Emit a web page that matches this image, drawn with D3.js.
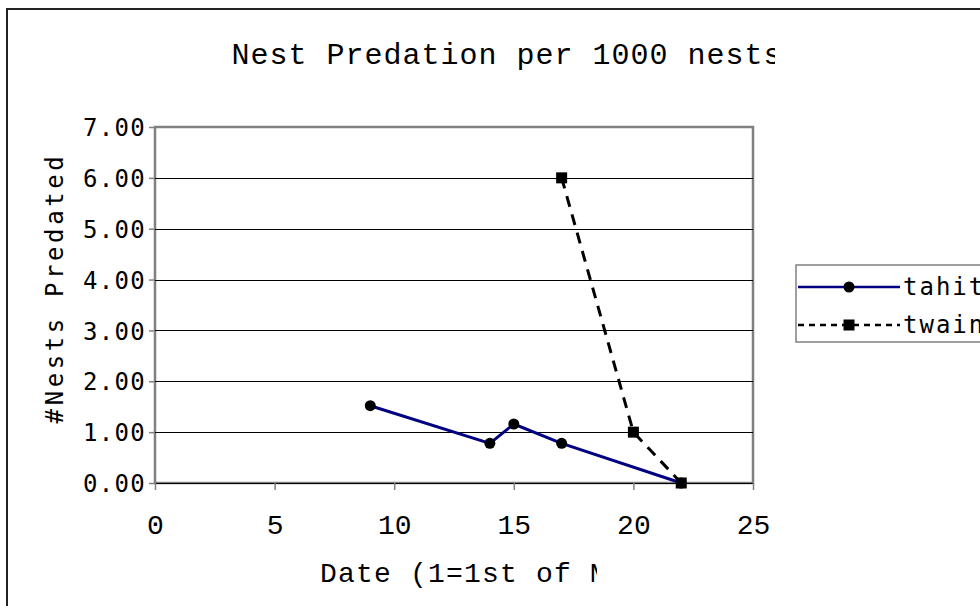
<!DOCTYPE html>
<html>
<head>
<meta charset="utf-8">
<script src="https://cdn.jsdelivr.net/npm/d3@7"></script>
<style>
  body { margin: 0; background: #fff; }
  svg { display: block; }
</style>
</head>
<body>
<div id="chart"></div>
<script>
"use strict";

// data
var tahitDates = [9, 14, 15, 17, 22];
var tahitValues = [1.52, 0.78, 1.16, 0.78, 0];
var twainDates = [17, 20, 22];
var twainValues = [6.0, 1.0, 0];
var seriesNames = ["tahiti", "twain"];
var xTicks = [0, 5, 10, 15, 20, 25];
var yTicks = [0, 1, 2, 3, 4, 5, 6, 7];

var W = 980, H = 606;
var plot = {left: 155, right: 753, top: 127, bottom: 483};

var svg = d3.select("#chart")
  .append("svg")
    .attr("width", W)
    .attr("height", H);

var defs = svg.append("defs");
defs.append("clipPath").attr("id", "clipTitle")
  .append("rect").attr("x", 0).attr("y", 0).attr("width", 775).attr("height", 110);
defs.append("clipPath").attr("id", "clipXlab")
  .append("rect").attr("x", 0).attr("y", 540).attr("width", 597).attr("height", 66);

// outer chart border (runs off the page on right and bottom)
svg.append("rect")
  .attr("x", 7).attr("y", 9)
  .attr("width", 1100).attr("height", 700)
  .attr("fill", "#fff")
  .attr("stroke", "#222")
  .attr("stroke-width", 2);

var x = d3.scaleLinear().domain([0, 25]).range([plot.left, plot.right]);
var y = d3.scaleLinear().domain([0, 7]).range([plot.bottom, plot.top]);

// plot area frame
svg.append("rect")
  .attr("x", plot.left).attr("y", plot.top)
  .attr("width", plot.right - plot.left)
  .attr("height", plot.bottom - plot.top)
  .attr("fill", "none")
  .attr("stroke", "#808080")
  .attr("stroke-width", 2.5);

// gridlines
svg.append("g")
  .selectAll("line")
  .data(yTicks.filter(function(d) { return d < 7; }))
  .join("line")
    .attr("x1", plot.left).attr("x2", plot.right)
    .attr("y1", function(d) { return Math.round(y(d)) + 0.5; })
    .attr("y2", function(d) { return Math.round(y(d)) + 0.5; })
    .attr("stroke", "#000")
    .attr("stroke-width", 1.2);

// y axis
var yAxis = svg.append("g")
  .attr("transform", "translate(" + plot.left + ",0)")
  .call(d3.axisLeft(y).tickValues(yTicks).tickSize(6).tickFormat(d3.format(".2f")));
yAxis.select(".domain").remove();
yAxis.selectAll(".tick line").attr("stroke", "#808080").attr("stroke-width", 1.5);
yAxis.selectAll(".tick text")
  .attr("x", -9)
  .attr("dy", "0.36em")
  .attr("fill", "#000")
  .style("font-family", "'DejaVu Sans Mono', monospace")
  .style("font-size", "24px")
  .style("letter-spacing", "1.3px");

// x axis
var xAxis = svg.append("g")
  .attr("transform", "translate(0," + plot.bottom + ")")
  .call(d3.axisBottom(x).tickValues(xTicks).tickSize(7).tickFormat(d3.format("d")));
xAxis.select(".domain").remove();
xAxis.selectAll(".tick line").attr("stroke", "#808080").attr("stroke-width", 1.5);
xAxis.selectAll(".tick text")
  .attr("y", 51)
  .attr("dy", "0")
  .attr("fill", "#000")
  .style("font-family", "'Liberation Mono', monospace")
  .style("font-size", "28px");

// series
var tahit = tahitDates.map(function(d, i) { return {x: d, y: tahitValues[i]}; });
var twain = twainDates.map(function(d, i) { return {x: d, y: twainValues[i]}; });

var line = d3.line().x(function(d) { return x(d.x); }).y(function(d) { return y(d.y); });

svg.append("path")
  .datum(twain)
  .attr("fill", "none")
  .attr("stroke", "#000")
  .attr("stroke-width", 3)
  .attr("stroke-dasharray", "11,8")
  .attr("d", line);

svg.append("path")
  .datum(tahit)
  .attr("fill", "none")
  .attr("stroke", "#000080")
  .attr("stroke-width", 3)
  .attr("d", line);

svg.append("g").selectAll("circle")
  .data(tahit)
  .join("circle")
    .attr("cx", function(d) { return x(d.x); })
    .attr("cy", function(d) { return y(d.y); })
    .attr("r", 5.5)
    .attr("fill", "#000");

svg.append("g").selectAll("rect")
  .data(twain)
  .join("rect")
    .attr("x", function(d) { return x(d.x) - 5.5; })
    .attr("y", function(d) { return y(d.y) - 5.5; })
    .attr("width", 11).attr("height", 11)
    .attr("fill", "#000");

// title
svg.append("text")
  .attr("clip-path", "url(#clipTitle)")
  .attr("x", 507).attr("y", 64)
  .attr("text-anchor", "middle")
  .style("font-family", "'Liberation Mono', monospace")
  .style("font-size", "30px")
  .style("letter-spacing", "1px")
  .text("Nest Predation per 1000 nests");

// axis titles
svg.append("text")
  .attr("transform", "translate(63,288) rotate(-90)")
  .attr("text-anchor", "middle")
  .style("font-family", "'DejaVu Sans Mono', monospace")
  .style("font-size", "24px")
  .style("letter-spacing", "3.6px")
  .text("#Nests Predated");

svg.append("text")
  .attr("clip-path", "url(#clipXlab)")
  .attr("x", 320).attr("y", 582)
  .style("font-family", "'Liberation Mono', monospace")
  .style("font-size", "28px")
  .style("letter-spacing", "1.2px")
  .text("Date (1=1st of May)");

// legend
var legend = svg.append("g");
legend.append("rect")
  .attr("x", 796).attr("y", 265)
  .attr("width", 300).attr("height", 77)
  .attr("fill", "#fff")
  .attr("stroke", "#808080")
  .attr("stroke-width", 1.5);

var legY = [287, 325];
var legStyles = [
  {stroke: "#000080", dash: null},
  {stroke: "#000", dash: "6,5"}
];
seriesNames.forEach(function(name, i) {
  legend.append("line")
    .attr("x1", 798).attr("x2", 900)
    .attr("y1", legY[i]).attr("y2", legY[i])
    .attr("stroke", legStyles[i].stroke)
    .attr("stroke-width", 2.5)
    .attr("stroke-dasharray", legStyles[i].dash);
  if (i === 0) {
    legend.append("circle").attr("cx", 849).attr("cy", legY[i]).attr("r", 5.5).attr("fill", "#000");
  } else {
    legend.append("rect").attr("x", 843.5).attr("y", legY[i] - 5.5).attr("width", 11).attr("height", 11).attr("fill", "#000");
  }
  legend.append("text")
    .attr("x", 903).attr("y", legY[i] + 8)
    .style("font-family", "'DejaVu Sans Mono', monospace")
    .style("font-size", "24px")
    .style("letter-spacing", "2px")
    .text(name);
});
</script>
</body>
</html>
